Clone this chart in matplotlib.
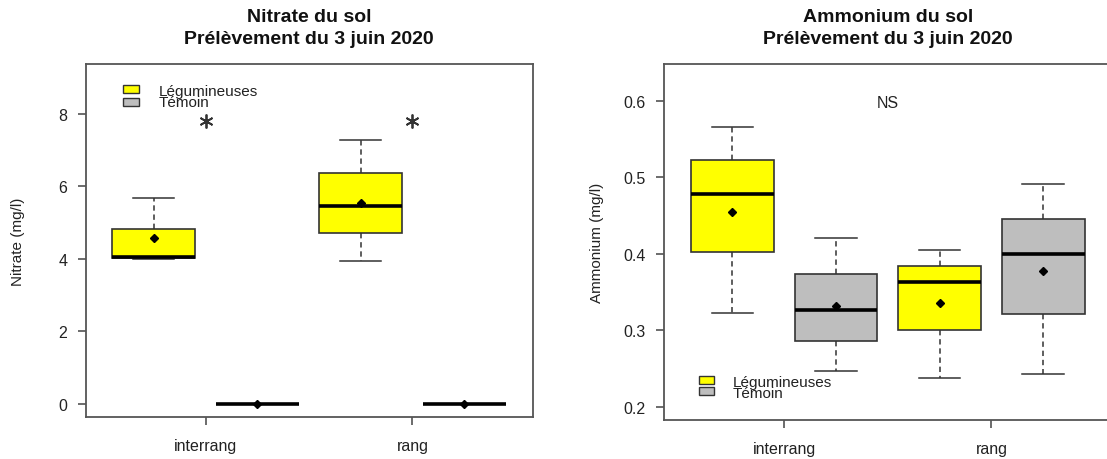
import matplotlib
matplotlib.use("Agg")
import matplotlib.pyplot as plt
from matplotlib.patches import Rectangle

plt.rcParams['font.family'] = ['Liberation Sans', 'DejaVu Sans']

# ---------------- data ----------------
groups = ["interrang", "rang"]
treatments = ["Légumineuses", "Témoin"]
fill_colors = ["#FFFF00", "#BEBEBE"]
# box order: Légumineuses-interrang, Témoin-interrang, Légumineuses-rang, Témoin-rang

nit_whislo = [4.00, 0.0, 3.95, 0.0]
nit_q1 = [4.02, 0.0, 4.72, 0.0]
nit_med = [4.05, 0.0, 5.46, 0.0]
nit_q3 = [4.84, 0.0, 6.36, 0.0]
nit_whishi = [5.69, 0.0, 7.28, 0.0]
nit_mean = [4.57, 0.0, 5.55, 0.0]
nit_signif = ["*", "*"]
nit_signif_y = 7.8

amm_whislo = [0.323, 0.247, 0.237, 0.243]
amm_q1 = [0.402, 0.286, 0.300, 0.321]
amm_med = [0.478, 0.326, 0.363, 0.400]
amm_q3 = [0.523, 0.373, 0.384, 0.446]
amm_whishi = [0.566, 0.420, 0.405, 0.491]
amm_mean = [0.455, 0.332, 0.335, 0.377]
amm_signif = "NS"
amm_signif_y = 0.598

nit_yticks = [0, 2, 4, 6, 8]
amm_yticks = [0.2, 0.3, 0.4, 0.5, 0.6]

# ---------------- figure ----------------
W, H = 1107, 460
fig = plt.figure(figsize=(W / 100, H / 100), dpi=100)

ax1 = fig.add_axes([85.5 / W, (H - 418) / H, 447 / W, 353 / H])
ax2 = fig.add_axes([664 / W, (H - 421) / H, 447.6 / W, 356 / H])

positions = [1, 2, 3, 4]
box_colors = [fill_colors[0], fill_colors[1], fill_colors[0], fill_colors[1]]
edge = "#333333"


def draw_panel(ax, lo, q1, med, q3, hi, mean):
    stats = []
    for i in range(4):
        stats.append(dict(whislo=lo[i], q1=q1[i], med=med[i], q3=q3[i],
                          whishi=hi[i], mean=mean[i], fliers=[]))
    bp = ax.bxp(stats, positions=positions, widths=0.8, capwidths=0.4,
                patch_artist=True, showmeans=True, showfliers=False,
                boxprops=dict(edgecolor=edge, linewidth=1.2),
                medianprops=dict(color="black", linewidth=2.6, solid_capstyle="butt"),
                whiskerprops=dict(color=edge, linewidth=1.1, linestyle=(0, (3.5, 2.5))),
                capprops=dict(color=edge, linewidth=1.1),
                meanprops=dict(marker="D", markerfacecolor="black",
                               markeredgecolor="black", markersize=4))
    for patch, c in zip(bp["boxes"], box_colors):
        patch.set_facecolor(c)
    ax.set_xlim(0.34, 4.66)
    ax.set_xticks([1.5, 3.5])
    ax.set_xticklabels(groups)
    for sp in ax.spines.values():
        sp.set_color("#555555")
        sp.set_linewidth(1.3)
    ax.tick_params(axis="both", direction="out", length=6, width=1.1,
                   color="#444444", labelsize=11.5, labelcolor="#222222")
    ax.tick_params(axis="y", pad=7)
    ax.tick_params(axis="x", pad=9)


def draw_legend(ax, x0, x1, ys_box, x_text, ys_text, h):
    for i in range(2):
        ax.add_patch(Rectangle((x0, ys_box[i] - h / 2), x1 - x0, h,
                               transform=ax.transAxes, facecolor=fill_colors[i],
                               edgecolor=edge, linewidth=1.0, clip_on=False))
        ax.text(x_text, ys_text[i], treatments[i], transform=ax.transAxes,
                fontsize=11, va="center", ha="left", color="#222222")


# ----- Nitrate -----
draw_panel(ax1, nit_whislo, nit_q1, nit_med, nit_q3, nit_whishi, nit_mean)
ax1.set_ylim(-0.36, 9.38)
ax1.set_yticks(nit_yticks)
ax1.set_yticklabels([str(v) for v in nit_yticks])
ax1.set_ylabel("Nitrate (mg/l)", fontsize=11, color="#222222")
ax1.yaxis.set_label_coords(-0.135, 0.5)
for xpos, s in zip([1.5, 3.5], nit_signif):
    ax1.plot([xpos], [nit_signif_y], marker=(6, 2, 0), markersize=10,
             color="#333333", markeredgewidth=1.3, linestyle="none")
draw_legend(ax1, 0.084, 0.120, [0.929, 0.893], 0.164, [0.924, 0.892], 0.022)

# ----- Ammonium -----
draw_panel(ax2, amm_whislo, amm_q1, amm_med, amm_q3, amm_whishi, amm_mean)
ax2.set_ylim(0.1826, 0.648)
ax2.set_yticks(amm_yticks)
ax2.set_yticklabels([f"{v:.1f}" for v in amm_yticks])
ax2.set_ylabel("Ammonium (mg/l)", fontsize=11, color="#222222")
ax2.yaxis.set_label_coords(-0.133, 0.5)
ax2.text(2.5, amm_signif_y, amm_signif, fontsize=11.5, ha="center", va="center",
         color="#222222")
draw_legend(ax2, 0.079, 0.111, [0.113, 0.082], 0.154, [0.108, 0.076], 0.022)

# ----- titles -----
for ax, name in [(ax1, "Nitrate du sol"), (ax2, "Ammonium du sol")]:
    pos = ax.get_position()
    xc = pos.x0 + pos.width / 2
    fig.text(xc, 1 - 17 / H, name, ha="center", va="center",
             fontsize=14, fontweight="bold", color="#111111")
    fig.text(xc, 1 - 39 / H, "Prélèvement du 3 juin 2020", ha="center",
             va="center", fontsize=14, fontweight="bold", color="#111111")

fig.savefig("out.png", dpi=100)
